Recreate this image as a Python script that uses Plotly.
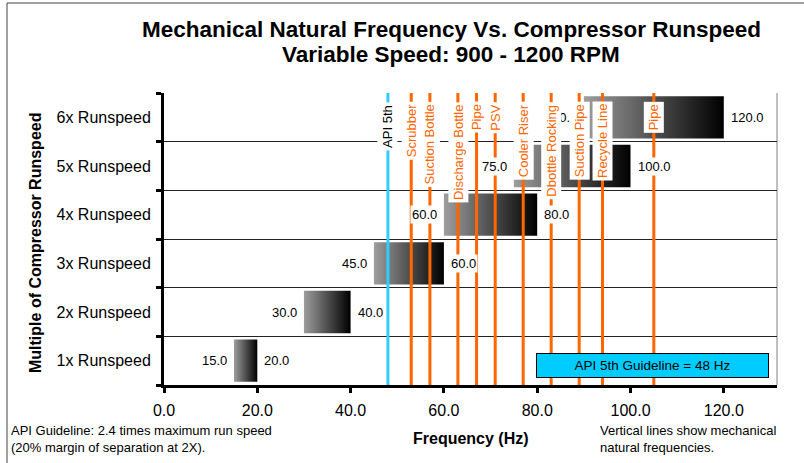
import plotly.graph_objects as go

# Runspeed multiples and their excitation bands (Hz) over 900-1200 RPM
categories = ["1x Runspeed", "2x Runspeed", "3x Runspeed",
              "4x Runspeed", "5x Runspeed", "6x Runspeed"]
band_low = [15.0, 30.0, 45.0, 60.0, 75.0, 90.0]
band_high = [20.0, 40.0, 60.0, 80.0, 100.0, 120.0]

# Mechanical natural frequencies (Hz)
mech_names = ["Scrubber", "Suction Bottle", "Discharge Bottle", "Pipe", "PSV",
              "Cooler Riser", "Dbottle Rocking", "Suction Pipe", "Recycle Line", "Pipe"]
mech_freqs = [53, 57, 63, 67, 71, 77, 83, 89, 94, 105]

api_name = "API 5th"
api_freq = 48

x_ticks = [0, 20, 40, 60, 80, 100, 120]

FONT = "Arial, 'Liberation Sans', sans-serif"
ORANGE = "#FF6600"
CYAN = "#33CCFF"

# plot-area geometry in pixels
W, H = 804, 463
ML, MR, MT, MB = 164, 27, 93, 78
PW, PH = W - ML - MR, H - MT - MB


def px(xp):
    return (xp - ML) / PW


def py(yp):
    return (H - MB - yp) / PH


fig = go.Figure()

half = 0.435
rows = list(range(1, len(categories) + 1))

# gradient-filled range bars
for r, lo, hi in zip(rows, band_low, band_high):
    fig.add_trace(go.Scatter(
        x=[lo, hi, hi, lo, lo],
        y=[r - half, r - half, r + half, r + half, r - half],
        mode="lines", line=dict(width=0), fill="toself",
        fillgradient=dict(type="horizontal", start=lo, stop=hi,
                          colorscale=[[0, "rgb(158,158,158)"], [1, "rgb(0,0,0)"]]),
        hoverinfo="skip", showlegend=False,
    ))

# vertical natural-frequency lines
y_span = [0.5, len(categories) + 0.5]
fig.add_trace(go.Scatter(x=[api_freq, api_freq], y=y_span, mode="lines",
                         line=dict(color=CYAN, width=3), hoverinfo="skip",
                         showlegend=False))
for f in mech_freqs:
    fig.add_trace(go.Scatter(x=[f, f], y=y_span, mode="lines",
                             line=dict(color=ORANGE, width=3), hoverinfo="skip",
                             showlegend=False))

annotations = []

# band end value labels
for r, lo, hi in zip(rows, band_low, band_high):
    annotations.append(dict(x=lo, y=r, xref="x", yref="y", text=f"{lo:.1f}",
                            xanchor="right", yanchor="middle", xshift=-5, showarrow=False,
                            bgcolor="white", font=dict(family=FONT, size=13, color="black")))
    annotations.append(dict(x=hi, y=r, xref="x", yref="y", text=f"{hi:.1f}",
                            xanchor="left", yanchor="middle", xshift=5, showarrow=False,
                            bgcolor="white", font=dict(family=FONT, size=13, color="black")))

# rotated labels at the top of each vertical line
label_y = py(101.5)
annotations.append(dict(x=api_freq, y=label_y, xref="x", yref="paper", text=api_name,
                        textangle=-90, xanchor="center", yanchor="top", showarrow=False,
                        bgcolor="white", borderpad=2,
                        font=dict(family=FONT, size=13, color="black")))
for name, f in zip(mech_names, mech_freqs):
    annotations.append(dict(x=f, y=label_y, xref="x", yref="paper", text=name,
                            textangle=-90, xanchor="center", yanchor="top", showarrow=False,
                            bgcolor="white", borderpad=2,
                            font=dict(family=FONT, size=13, color=ORANGE)))

# guideline box
annotations.append(dict(x=px(652), y=py(365), xref="paper", yref="paper",
                        xanchor="center", yanchor="middle",
                        text=f"API 5th Guideline = {api_freq} Hz", showarrow=False,
                        width=229, height=21, bgcolor="rgb(0,204,255)",
                        bordercolor="black", borderwidth=1, borderpad=1,
                        font=dict(family=FONT, size=13.5, color="black")))

# titles
annotations.append(dict(x=px(451), y=py(30), xref="paper", yref="paper",
                        xanchor="center", yanchor="middle",
                        text="<b>Mechanical Natural Frequency Vs. Compressor Runspeed</b>",
                        showarrow=False, font=dict(family=FONT, size=22.5, color="black")))
annotations.append(dict(x=px(451), y=py(54), xref="paper", yref="paper",
                        xanchor="center", yanchor="middle",
                        text="<b>Variable Speed: 900 - 1200 RPM</b>",
                        showarrow=False, font=dict(family=FONT, size=22.5, color="black")))
annotations.append(dict(x=px(35), y=py(243), xref="paper", yref="paper",
                        xanchor="center", yanchor="middle",
                        text="<b>Multiple of Compressor Runspeed</b>", textangle=-90,
                        showarrow=False, font=dict(family=FONT, size=16, color="black")))
annotations.append(dict(x=px(471), y=py(438), xref="paper", yref="paper",
                        xanchor="center", yanchor="middle",
                        text="<b>Frequency (Hz)</b>",
                        showarrow=False, font=dict(family=FONT, size=16, color="black")))

# footnotes
annotations.append(dict(x=px(9), y=py(439), xref="paper", yref="paper",
                        xanchor="left", yanchor="middle",
                        align="left", showarrow=False,
                        text="API Guideline: 2.4 times maximum run speed<br>(20% margin of separation at 2X).",
                        font=dict(family=FONT, size=13, color="black")))
annotations.append(dict(x=px(598), y=py(439), xref="paper", yref="paper",
                        xanchor="left", yanchor="middle",
                        align="left", showarrow=False,
                        text="Vertical lines show mechanical<br>natural frequencies.",
                        font=dict(family=FONT, size=13, color="black")))

shapes = [
    # outer chart frame: left and top edges
    dict(type="line", xref="paper", yref="paper", x0=px(7), x1=px(7), y0=py(463), y1=py(3),
         line=dict(color="#404040", width=1), layer="below"),
    dict(type="line", xref="paper", yref="paper", x0=px(7), x1=px(804), y0=py(3), y1=py(3),
         line=dict(color="#404040", width=1), layer="below"),
    # right border of the plot area
    dict(type="line", xref="paper", yref="paper", x0=1, x1=1, y0=0, y1=1,
         line=dict(color="#808080", width=1), layer="below"),
]

fig.update_layout(
    width=W, height=H,
    margin=dict(l=ML, r=MR, t=MT, b=MB, pad=0),
    paper_bgcolor="white", plot_bgcolor="white",
    showlegend=False,
    annotations=annotations, shapes=shapes,
    font=dict(family=FONT, color="black"),
    xaxis=dict(range=[0, PW / 4.665], tickvals=x_ticks,
               ticktext=[f"{v:.1f}" for v in x_ticks],
               showgrid=False, zeroline=False,
               showline=True, linecolor="black", linewidth=3,
               ticks="outside", ticklen=5, tickwidth=2.5, tickcolor="black",
               ticklabelstandoff=4,
               tickfont=dict(family=FONT, size=16, color="black")),
    yaxis=dict(range=y_span, tickvals=rows, ticktext=categories,
               showgrid=False, zeroline=False,
               showline=True, linecolor="black", linewidth=3,
               ticks="", ticklabelstandoff=7,
               tickfont=dict(family=FONT, size=16, color="black"),
               minor=dict(tick0=0.5, dtick=1, ticks="outside", ticklen=5,
                          tickwidth=2.5, tickcolor="black",
                          showgrid=True, gridcolor="#222222", gridwidth=1)),
)

fig.write_html("out.html")
